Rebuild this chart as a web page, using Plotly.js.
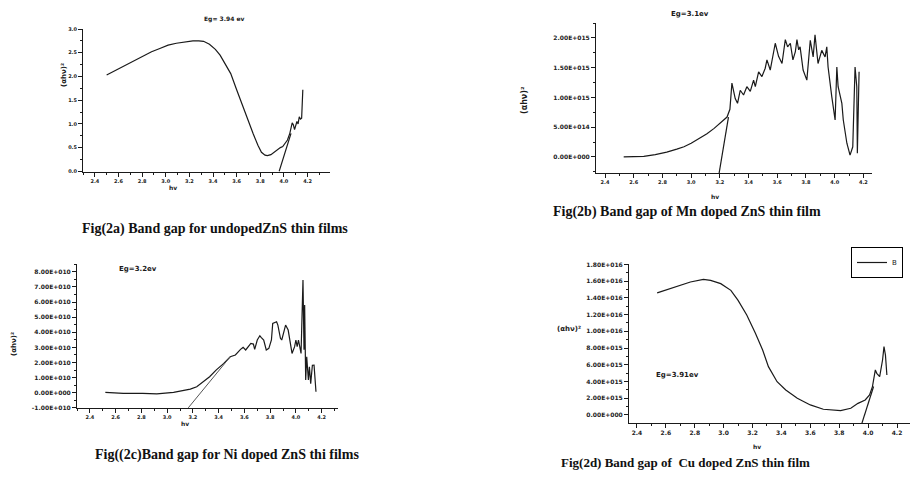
<!DOCTYPE html>
<html>
<head>
<meta charset="utf-8">
<script src="https://cdn.plot.ly/plotly-3.0.1.min.js"></script>
<style>html,body{margin:0;padding:0;background:#fff;}#chart{width:916px;height:487px;}</style>
</head>
<body>
<div id="chart"></div>
<script>
// ---------- DATA ----------
// Panel (2a) undoped ZnS
const aHv = [2.50,2.60,2.67,2.75,2.81,2.88,2.95,3.02,3.09,3.16,3.23,3.28,3.32,3.37,3.42,3.46,3.50,3.55,3.60,3.65,3.70,3.74,3.78,3.81,3.84,3.86,3.89,3.92,3.94,3.97,3.99,4.01,4.03,4.05,4.07,4.08,4.09,4.11,4.12,4.13,4.14,4.15,4.16];
const aY  = [2.03,2.16,2.25,2.36,2.44,2.52,2.59,2.66,2.70,2.73,2.75,2.75,2.74,2.68,2.57,2.45,2.28,2.06,1.72,1.38,1.05,0.79,0.55,0.40,0.34,0.33,0.35,0.41,0.45,0.50,0.52,0.58,0.66,0.80,1.02,0.98,0.88,1.05,1.00,1.15,1.10,1.12,1.72];
const aFitHv = [3.96,4.06];
const aFitY  = [0.00,0.80];

// Panel (2b) Mn doped ZnS  (values in units of 1e15)
const bHv = [2.53,2.60,2.67,2.75,2.83,2.90,2.95,3.00,3.06,3.11,3.16,3.21,3.25,3.27,3.284,3.307,3.323,3.342,3.365,3.388,3.412,3.435,3.447,3.47,3.493,3.516,3.528,3.551,3.574,3.586,3.609,3.633,3.656,3.672,3.691,3.709,3.726,3.737,3.749,3.759,3.78,3.806,3.83,3.85,3.863,3.884,3.91,3.933,3.945,3.954,3.98,4.003,4.015,4.024,4.05,4.06,4.085,4.107,4.126,4.142,4.154,4.158,4.17];
const bY  = [0.00,0.00,0.01,0.04,0.08,0.13,0.17,0.23,0.31,0.39,0.48,0.58,0.67,0.80,1.24,0.98,0.90,1.12,1.04,1.18,1.10,1.29,1.18,1.43,1.35,1.49,1.63,1.46,1.77,1.91,1.69,1.57,1.97,1.85,1.91,1.63,1.77,1.97,1.80,1.85,1.46,1.29,1.96,1.68,2.05,1.57,1.79,1.68,1.85,1.51,1.01,0.62,1.51,1.18,0.90,0.62,0.23,0.03,0.17,1.51,1.18,0.06,1.43];
const bFitHv = [3.195,3.26];
const bFitY  = [-0.27,0.67];

// Panel (2c) Ni doped ZnS  (values in units of 1e10)
const cHv = [2.52,2.66,2.81,2.92,3.05,3.11,3.18,3.23,3.28,3.33,3.38,3.44,3.49,3.53,3.57,3.59,3.61,3.63,3.65,3.67,3.68,3.70,3.72,3.73,3.75,3.77,3.79,3.81,3.82,3.85,3.86,3.88,3.89,3.91,3.92,3.94,3.95,3.97,3.99,4.00,4.01,4.02,4.04,4.048,4.055,4.063,4.068,4.076,4.084,4.097,4.105,4.115,4.128,4.141,4.149,4.156];
const cY  = [0.02,-0.04,-0.04,-0.07,0.02,0.13,0.24,0.40,0.73,1.06,1.50,1.94,2.38,2.50,2.87,3.00,2.83,3.05,3.27,3.22,2.87,3.49,3.77,3.66,3.49,2.83,2.94,3.49,4.59,4.70,4.48,3.60,3.49,4.15,4.48,4.15,3.71,2.60,3.05,3.49,3.05,3.49,2.60,5.70,7.46,2.85,5.80,0.84,2.38,0.84,1.72,0.60,1.82,1.83,0.62,0.07];
const cFitHv = [3.164,3.49];
const cFitY  = [-1.00,2.38];

// Panel (2d) Cu doped ZnS  (values in units of 1e15)
const dHv = [2.54,2.65,2.77,2.86,2.91,2.98,3.05,3.10,3.16,3.22,3.27,3.31,3.37,3.43,3.51,3.60,3.69,3.81,3.88,3.93,3.98,4.01,4.03,4.05,4.06,4.08,4.10,4.11,4.12,4.13];
const dY  = [14.6,15.2,15.9,16.2,16.1,15.7,14.9,13.7,11.95,9.76,7.77,5.78,3.98,2.99,1.99,1.20,0.68,0.52,0.80,1.39,1.79,2.39,3.39,5.38,4.98,4.58,6.57,8.17,7.17,4.78];
const dFitHv = [3.957,4.038];
const dFitY  = [-1.00,3.40];

// Tick labels
const xTickVals = [2.4,2.6,2.8,3.0,3.2,3.4,3.6,3.8,4.0,4.2];
const xTickText = ["2.4","2.6","2.8","3.0","3.2","3.4","3.6","3.8","4.0","4.2"];
const aTickVals = [0,0.5,1.0,1.5,2.0,2.5,3.0];
const aTickText = ["0.0","0.5","1.0","1.5","2.0","2.5","3.0"];
const bTickVals = [0,0.5,1.0,1.5,2.0];
const bTickText = ["0.00E+000","5.00E+014","1.00E+015","1.50E+015","2.00E+015"];
const cTickVals = [-1,0,1,2,3,4,5,6,7,8];
const cTickText = ["-1.00E+010","0.00E+000","1.00E+010","2.00E+010","3.00E+010","4.00E+010","5.00E+010","6.00E+010","7.00E+010","8.00E+010"];
const dTickVals = [0,2,4,6,8,10,12,14,16,18];
const dTickText = ["0.00E+000","2.00E+015","4.00E+015","6.00E+015","8.00E+015","1.00E+016","1.20E+016","1.40E+016","1.60E+016","1.80E+016"];

// ---------- LAYOUT HELPERS ----------
const W = 916, H = 487;
const px = v => v / W;
const py = v => 1 - v / H;
const ink = '#1a1a1a';
const sFont = s => ({family: 'DejaVu Sans', size: s, color: ink, weight: 'bold'});
const capFont = s => ({family: 'Liberation Serif', size: s, color: '#111', weight: 'bold'});
const ylab = '(αhν)²';

function xAxis(x0, x1, yAnchor, range, fs) {
  return {
    domain: [px(x0), px(x1)], anchor: yAnchor, range: range,
    tickmode: 'array', tickvals: xTickVals, ticktext: xTickText,
    showline: true, linecolor: ink, linewidth: 1, ticks: 'outside', ticklen: 4, tickcolor: ink,
    minor: {ticks: 'outside', ticklen: 2, dtick: 0.1, tick0: 2.4, tickcolor: ink},
    showgrid: false, zeroline: false,
    tickfont: {family: 'DejaVu Sans', size: fs, color: '#222', weight: 'bold'}
  };
}
function yAxis(y0, y1, xAnchor, range, vals, text, minorStep, fs) {
  return {
    domain: [py(y1), py(y0)], anchor: xAnchor, range: range,
    tickmode: 'array', tickvals: vals, ticktext: text,
    showline: true, linecolor: ink, linewidth: 1, ticks: 'outside', ticklen: 4, tickcolor: ink,
    minor: {ticks: 'outside', ticklen: 2, dtick: minorStep, tick0: 0, tickcolor: ink},
    showgrid: false, zeroline: false,
    tickfont: {family: 'DejaVu Sans', size: fs, color: '#222', weight: 'bold'}
  };
}

const line = {color: ink, width: 1.2};
const traces = [
  {x: aHv, y: aY, xaxis: 'x', yaxis: 'y', mode: 'lines', line: line, showlegend: false},
  {x: aFitHv, y: aFitY, xaxis: 'x', yaxis: 'y', mode: 'lines', line: line, showlegend: false},
  {x: bHv, y: bY, xaxis: 'x2', yaxis: 'y2', mode: 'lines', line: line, showlegend: false},
  {x: bFitHv, y: bFitY, xaxis: 'x2', yaxis: 'y2', mode: 'lines', line: line, showlegend: false},
  {x: cHv, y: cY, xaxis: 'x3', yaxis: 'y3', mode: 'lines', line: line, showlegend: false},
  {x: cFitHv, y: cFitY, xaxis: 'x3', yaxis: 'y3', mode: 'lines', line: {color: '#555', width: 1}, showlegend: false},
  {x: dHv, y: dY, xaxis: 'x4', yaxis: 'y4', mode: 'lines', line: line, name: 'B', showlegend: true},
  {x: dFitHv, y: dFitY, xaxis: 'x4', yaxis: 'y4', mode: 'lines', line: line, showlegend: false}
];

function ann(text, x, y, font, extra) {
  return Object.assign({
    text: text, x: px(x), y: py(y), xref: 'paper', yref: 'paper',
    showarrow: false, xanchor: 'center', yanchor: 'middle', font: font
  }, extra || {});
}

const layout = {
  width: W, height: H,
  margin: {l: 0, r: 0, t: 0, b: 0},
  paper_bgcolor: '#fff', plot_bgcolor: 'rgba(0,0,0,0)',
  xaxis:  xAxis(83, 330, 'y', [2.30, 4.39], 5),
  yaxis:  yAxis(29, 172, 'x', [-0.015, 3.0], aTickVals, aTickText, 0.25, 5),
  xaxis2: xAxis(596, 872, 'y2', [2.337, 4.26], 5),
  yaxis2: yAxis(23, 173, 'x2', [-0.27, 2.25], bTickVals, bTickText, 0.25, 6),
  xaxis3: xAxis(77, 338, 'y3', [2.30, 4.327], 5),
  yaxis3: yAxis(264, 408, 'x3', [-1.01, 8.52], cTickVals, cTickText, 0.5, 6),
  xaxis4: xAxis(629, 910, 'y4', [2.345, 4.29], 6),
  yaxis4: yAxis(264, 423, 'x4', [-0.96, 18.05], dTickVals, dTickText, 1, 6),
  showlegend: true,
  legend: {x: px(877), y: py(247), xanchor: 'center', yanchor: 'top', bordercolor: '#000', borderwidth: 1,
           bgcolor: '#fff', font: {family: 'DejaVu Sans', size: 7, color: ink}, itemwidth: 30},
  annotations: [
    ann('Eg= 3.94 ev', 224, 19, sFont(6)),
    ann(ylab, 64, 75, sFont(7), {textangle: -90}),
    ann('hv', 173, 187, sFont(6)),
    ann('Fig(2a) Band gap for undopedZnS thin films', 215, 229, capFont(14)),

    ann('Eg=3.1ev', 690, 14, sFont(7)),
    ann(ylab, 525, 100, sFont(8), {textangle: -90}),
    ann('hv', 715, 197, sFont(6)),
    ann('Fig(2b) Band gap of Mn doped ZnS thin film', 687, 212, capFont(14)),

    ann('Eg=3.2ev', 138, 269, sFont(7)),
    ann(ylab, 14, 344, sFont(7), {textangle: -90}),
    ann('hv', 185, 423, sFont(6)),
    ann('Fig((2c)Band gap for Ni doped ZnS thi films', 227, 455, capFont(14)),

    ann('Eg=3.91ev', 677, 375, sFont(7)),
    ann(ylab, 569, 329, sFont(7)),
    ann('hv', 757, 446, sFont(6)),
    ann('Fig(2d) Band gap of  Cu doped ZnS thin film', 685, 462, capFont(13))
  ]
};

Plotly.newPlot('chart', traces, layout, {staticPlot: true, displayModeBar: false});
</script>
</body>
</html>
